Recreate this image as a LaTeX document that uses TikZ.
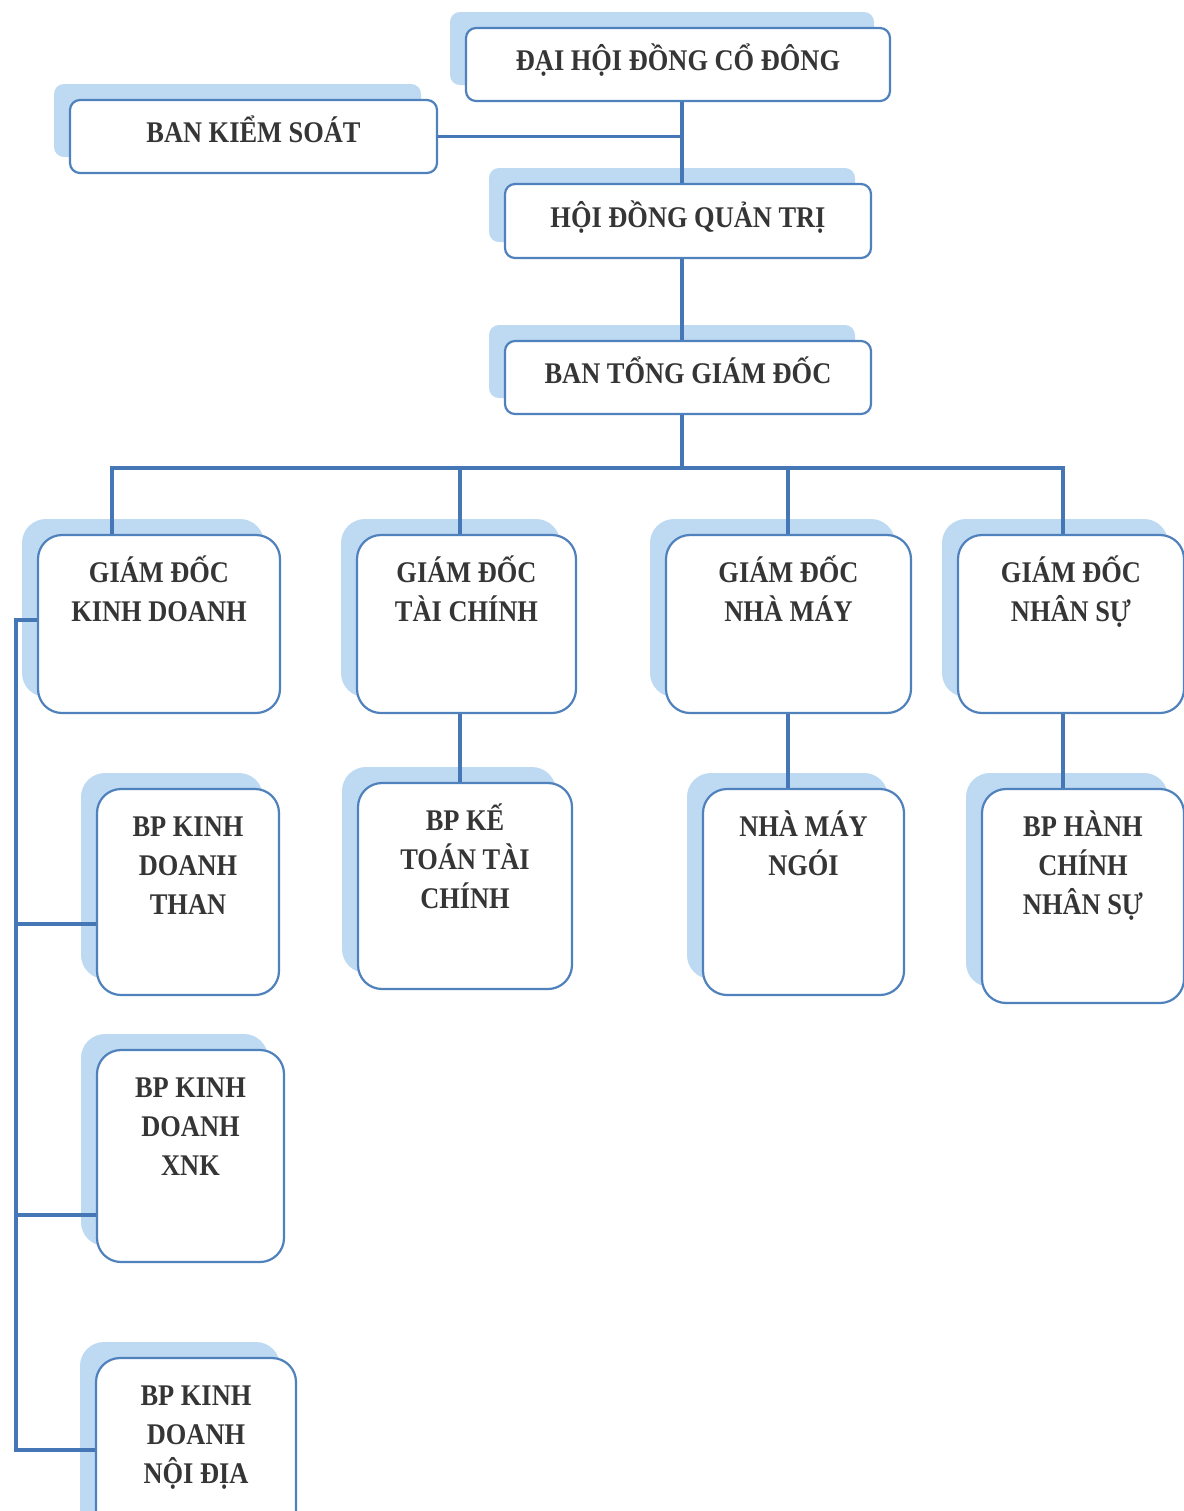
\documentclass[tikz,border=0pt]{standalone}
\usepackage{fontspec}
\setmainfont{Liberation Serif}[FakeStretch=0.88]
\usepackage{xcolor}
\definecolor{cBorder}{HTML}{4F81BD}
\definecolor{cLine}{HTML}{4576B5}
\definecolor{cShadow}{HTML}{BEDAF3}
\definecolor{cText}{HTML}{353535}
\usepackage{tikz}
\usetikzlibrary{shadows}
\tikzset{
  org-box/.style={draw=cBorder,line width=1.1pt,rounded corners=5pt,fill=white,
    text=cText,inner sep=0pt,align=center,
    general shadow={fill=cShadow,shadow xshift=-8pt,shadow yshift=8pt}},
  org-line/.style={org-box,text height=6pt,text depth=0pt},
  org-tall/.style={org-box,rounded corners=12pt},
  link/.style={draw=cLine,line width=1.6pt},
}
% khung chữ căn trên: rộng, cao, nội dung
\newcommand{\toptext}[3]{\parbox[c][#2][t]{#1}{\centering\rule{0pt}{23.5pt}#3}}

\begin{document}
\begin{tikzpicture}[x=0.5pt,y=-0.5pt,font=\fontsize{15}{19.5}\selectfont\bfseries]
  \useasboundingbox[fill=white] (0,0) rectangle (1184,1511);
  \clip (0,0) rectangle (1184,1511);

  % cấp trên
  \node[org-line,minimum width=212pt,minimum height=36.5pt] (dhdcd) at (678,64.5) {ĐẠI HỘI ĐỒNG CỔ ĐÔNG};
  \node[org-line,minimum width=183.5pt,minimum height=36.5pt] (bks) at (253.5,136.5) {BAN KIỂM SOÁT};
  \node[org-line,minimum width=183pt,minimum height=37pt] (hdqt) at (688,221) {HỘI ĐỒNG QUẢN TRỊ};
  \node[org-line,minimum width=183pt,minimum height=36.5pt] (btgd) at (688,377.5) {BAN TỔNG GIÁM ĐỐC};

  % giám đốc
  \node[org-tall] (gdkd) at (159,624) {\toptext{121pt}{89pt}{GIÁM ĐỐC\\KINH DOANH}};
  \node[org-tall] (gdtc) at (466.5,624) {\toptext{109.5pt}{89pt}{GIÁM ĐỐC\\TÀI CHÍNH}};
  \node[org-tall] (gdnm) at (788.5,624) {\toptext{122.5pt}{89pt}{GIÁM ĐỐC\\NHÀ MÁY}};
  \node[org-tall] (gdns) at (1071,624) {\toptext{113pt}{89pt}{GIÁM ĐỐC\\NHÂN SỰ}};

  % bộ phận
  \node[org-tall] (bpkdt) at (188,892) {\toptext{91pt}{103pt}{BP KINH\\DOANH\\THAN}};
  \node[org-tall] (bpkttc) at (465,886) {\toptext{107pt}{103pt}{BP KẾ\\TOÁN TÀI\\CHÍNH}};
  \node[org-tall] (nmn) at (803.5,892) {\toptext{100.5pt}{103pt}{NHÀ MÁY\\NGÓI}};
  \node[org-tall] (bphcns) at (1083,896) {\toptext{101pt}{107pt}{BP HÀNH\\CHÍNH\\NHÂN SỰ}};
  \node[org-tall] (bpkdxnk) at (190.5,1156) {\toptext{93.5pt}{106pt}{BP KINH\\DOANH\\XNK}};
  \node[org-tall] (bpkdnd) at (196,1458) {\toptext{100pt}{100pt}{BP KINH\\DOANH\\NỘI ĐỊA}};

  % điểm nối
  \coordinate (trunk) at (682,468);
  \coordinate (dropA) at (112,468);
  \coordinate (dropB) at (460,468);
  \coordinate (dropC) at (788,468);
  \coordinate (dropD) at (1063,468);
  \coordinate (spine) at (16,620);
  \coordinate (tapB) at (16,924);
  \coordinate (tapC) at (16,1215);
  \coordinate (tapD) at (16,1450);

  \draw[link] (dhdcd.south -| trunk) -- (hdqt.north -| trunk);
  \draw[link] (bks.east) -- (bks.east -| trunk);
  \draw[link] (hdqt.south -| trunk) -- (btgd.north -| trunk);
  \draw[link] (btgd.south -| trunk) -- (trunk);
  \draw[link] (gdkd.north -| dropA) -- (dropA) -- (dropD) -- (gdns.north -| dropD);
  \draw[link] (dropB) -- (gdtc.north -| dropB);
  \draw[link] (dropC) -- (gdnm.north -| dropC);
  \draw[link] (gdtc.south -| dropB) -- (bpkttc.north -| dropB);
  \draw[link] (gdnm.south -| dropC) -- (nmn.north -| dropC);
  \draw[link] (gdns.south -| dropD) -- (bphcns.north -| dropD);
  \draw[link] (gdkd.west |- spine) -- (spine) -- (tapD) -- (tapD -| bpkdnd.west);
  \draw[link] (tapB) -- (tapB -| bpkdt.west);
  \draw[link] (tapC) -- (tapC -| bpkdxnk.west);
\end{tikzpicture}
\end{document}
